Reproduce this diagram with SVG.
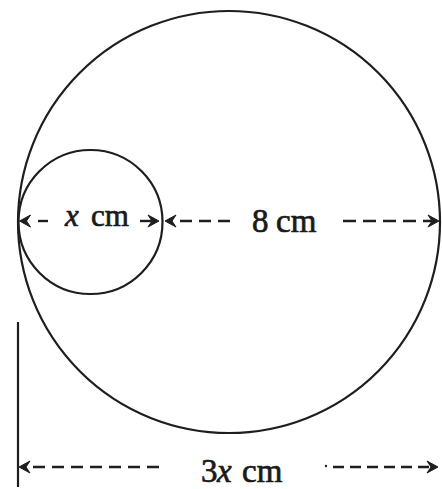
<svg xmlns="http://www.w3.org/2000/svg" width="442" height="489" viewBox="0 0 442 489">
<style>
.c{fill:none;stroke:#1e1e1e;stroke-width:2.2}
.d{fill:none;stroke:#1e1e1e;stroke-width:2.4;stroke-dasharray:11 6}
.h{fill:#1e1e1e;stroke:#1e1e1e;stroke-width:1}
.t{font-family:"Liberation Serif","Times New Roman","DejaVu Serif",serif;fill:#1a1a1a;stroke:#1a1a1a;stroke-width:0.7}
</style>
<defs>
<path id="ah" d="M0,0 L-11,-6 L-7,0 L-11,6 Z"/>
</defs>
<rect width="442" height="489" fill="#ffffff"/>
<g id="big-circle"><circle class="c" cx="229" cy="222" r="211"/></g>
<g id="small-circle"><circle class="c" cx="90.5" cy="222" r="72"/></g>
<g id="connectors">
<line class="c" x1="18" y1="322" x2="18" y2="487"/>
<use href="#ah" class="h" transform="translate(19.5,221) rotate(180)"/>
<line class="d" x1="38" y1="221" x2="48" y2="221" style="stroke-dasharray:none"/>
<line class="d" x1="140" y1="221" x2="152" y2="221" style="stroke-dasharray:none"/>
<use href="#ah" class="h" transform="translate(159,221)"/>
<use href="#ah" class="h" transform="translate(165,221) rotate(180)"/>
<line class="d" x1="180" y1="221" x2="233" y2="221" style="stroke-dasharray:12 7"/>
<line class="d" x1="343" y1="221" x2="432" y2="221" style="stroke-dasharray:13 7"/>
<use href="#ah" class="h" transform="translate(439,221)"/>
<use href="#ah" class="h" transform="translate(19,467) rotate(180)"/>
<line class="d" x1="33" y1="467" x2="166" y2="467" style="stroke-dasharray:12 7"/>
<circle cx="326" cy="466" r="1.2" fill="#1e1e1e"/>
<line class="d" x1="333" y1="467" x2="432" y2="467" style="stroke-dasharray:11 6"/>
<use href="#ah" class="h" transform="translate(438,467)"/>
</g>
<g id="labels">
<text class="t" y="226" font-size="31"><tspan x="65" font-style="italic">x</tspan><tspan x="91">cm</tspan></text>
<text class="t" y="232" font-size="33"><tspan x="252">8</tspan><tspan x="276">cm</tspan></text>
<text class="t" y="482" font-size="33"><tspan x="201">3</tspan><tspan x="217" font-style="italic">x</tspan><tspan x="242">cm</tspan></text>
</g>
</svg>
